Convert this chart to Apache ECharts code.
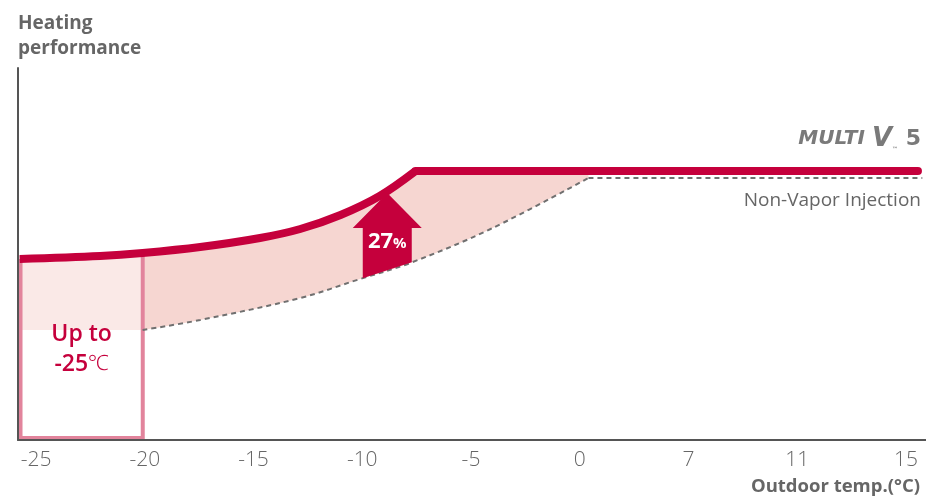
<!DOCTYPE html>
<html>
<head>
<meta charset="utf-8">
<script src="https://cdn.jsdelivr.net/npm/echarts@6/dist/echarts.min.js"></script>
<style>
  html, body { margin: 0; padding: 0; background: #fff; }
  #chart { width: 926px; height: 502px; }
</style>
</head>
<body>
<div id="chart"></div>
<script>
// Outdoor temperature tick labels, one per evenly spaced axis slot (slot 0 = -25).
const tempTicks = ['-25', '-20', '-15', '-10', '-5', '0', '7', '11', '15'];

// Heating performance curves as [axis slot, performance] pairs.
const multiV5Curve = [[-0.15, 181], [0.59, 184], [0.98, 187], [1.51, 193], [2.06, 202],
                      [2.43, 211], [2.80, 225], [3.16, 244], [3.49, 269]];
const multiV5Flat = [[3.49, 269], [8.11, 269]];
const nonVaporCurve = [[0.98, 110], [1.51, 120], [2.43, 142], [2.98, 161], [3.44, 177],
                       [4.18, 211], [5.08, 262]];
const nonVaporFlat = [[5.08, 262], [8.15, 262]];

// Gain arrow: [axis slot, from performance, to performance] and its label.
const gainArrow = [3.23, 168, 247];
const gainLabel = ['27', '%'];

// Low temperature operating zone: [from slot, to slot].
const lowTempZone = [-0.17, 1.0];
const lowTempText = ['Up to', '-25', '℃'];

// Series names drawn beside the lines.
const seriesNames = ['MULTI V. 5', 'Non-Vapor Injection'];
const axisTitles = ['Heating\nperformance', 'Outdoor temp.(°C)'];

const RED = '#c5003c';
const BAND = '#f6d6d1';
const ZONE_FILL = '#fae9e7';
const ZONE_LINE = '#e2849c';
const GREY_TEXT = '#666666';
const FONT = '"Open Sans", "Noto Sans", sans-serif';

function interp(points, x) {
  for (let i = 0; i < points.length - 1; i++) {
    const a = points[i], b = points[i + 1];
    if (x >= a[0] && x <= b[0]) {
      return a[1] + (b[1] - a[1]) * (x - a[0]) / (b[0] - a[0]);
    }
  }
  return x < points[0][0] ? points[0][1] : points[points.length - 1][1];
}

function lineSeries(data, opts) {
  return Object.assign({
    type: 'line',
    data: data,
    symbol: 'none',
    silent: true,
    animation: false
  }, opts);
}

const bandStart = nonVaporCurve[0][0];
const topLevel = multiV5Flat[0][1];

const chart = echarts.init(document.getElementById('chart'), null, { renderer: 'canvas' });

chart.setOption({
  backgroundColor: '#ffffff',
  animation: false,
  grid: { left: 18, right: 0, top: 68, bottom: 62, containLabel: false },
  xAxis: {
    type: 'value',
    min: -0.1655,
    max: 8.184,
    z: 10,
    axisLine: { show: true, onZero: false, lineStyle: { color: '#555', width: 2 } },
    axisTick: { show: false },
    splitLine: { show: false },
    axisLabel: {
      customValues: tempTicks.map((_, i) => i),
      formatter: v => tempTicks[Math.round(v)],
      color: GREY_TEXT,
      fontFamily: FONT,
      fontWeight: 300,
      fontSize: 21,
      margin: 10,
      showMinLabel: true,
      showMaxLabel: true
    }
  },
  yAxis: {
    type: 'value',
    min: 0,
    max: 372,
    z: 10,
    axisLine: { show: true, onZero: false, lineStyle: { color: '#555', width: 2 } },
    axisTick: { show: false },
    axisLabel: { show: false },
    splitLine: { show: false }
  },
  graphic: [
    {
      type: 'text', left: 18, top: 11, z: 20,
      style: { text: axisTitles[0], fill: GREY_TEXT, font: 'bold 19px ' + FONT, lineHeight: 25 }
    },
    {
      type: 'text', right: 6, top: 477, z: 20,
      style: { text: axisTitles[1], fill: GREY_TEXT, font: 'bold 18.5px ' + FONT }
    },
    {
      type: 'text', right: 5, top: 126, z: 20,
      style: {
        text: '{m|MULTI }{v|V}{t|™}{f| 5}',
        fill: '#7a7a7a',
        rich: {
          m: { font: 'italic 900 20px "DejaVu Sans", sans-serif', fill: '#7a7a7a' },
          v: { font: 'italic 900 26px "DejaVu Sans", sans-serif', fill: '#7a7a7a' },
          t: { font: 'bold 6px "DejaVu Sans", sans-serif', fill: '#7a7a7a', verticalAlign: 'bottom' },
          f: { font: 'bold 22px "DejaVu Sans", sans-serif', fill: '#7a7a7a' }
        }
      }
    },
    {
      type: 'text', right: 5, top: 191, z: 20,
      style: { text: seriesNames[1], fill: GREY_TEXT, font: '19px ' + FONT }
    }
  ],
  series: [
    // pink band: fill above the non-vapor curve ...
    lineSeries(nonVaporCurve, {
      smooth: 0.35, z: 1, lineStyle: { width: 0 },
      areaStyle: { color: BAND, opacity: 1, origin: 'end' }
    }),
    // ... then cleared above the MULTI V 5 line
    lineSeries(multiV5Curve, {
      smooth: 0.35, z: 2, lineStyle: { width: 0 },
      areaStyle: { color: '#ffffff', opacity: 1, origin: 'end' }
    }),
    lineSeries([[bandStart, topLevel], multiV5Flat[1]], {
      z: 2, lineStyle: { width: 0 },
      areaStyle: { color: '#ffffff', opacity: 1, origin: 'end' }
    }),
    // low temperature zone box and its caption
    {
      type: 'custom',
      z: 3,
      silent: true,
      animation: false,
      data: [[lowTempZone[0], lowTempZone[1], multiV5Curve[0][1], nonVaporCurve[0][1],
              interp(multiV5Curve, lowTempZone[1])]],
      encode: { x: [0, 1], y: [2, 3] },
      renderItem: function (params, api) {
        const tl = api.coord([api.value(0), api.value(2)]);
        const br = api.coord([api.value(1), 0]);
        const fb = api.coord([api.value(1), api.value(3)]);
        const tr = api.coord([api.value(1), api.value(4)]);
        const x0 = tl[0] + 3, x1 = br[0] - 2;
        const yTop = tl[1], yBot = br[1] - 2;
        return {
          type: 'group',
          children: [
            {
              type: 'rect',
              shape: { x: tl[0], y: yTop - 3, width: br[0] - tl[0], height: fb[1] - yTop + 3 },
              style: { fill: ZONE_FILL }
            },
            {
              type: 'polyline',
              shape: { points: [[x0, yTop], [x0, yBot], [x1, yBot], [x1, tr[1]]] },
              style: { stroke: ZONE_LINE, lineWidth: 4, fill: null }
            },
            {
              type: 'text',
              x: (x0 + x1) / 2,
              y: (yTop + yBot) / 2 + 1,
              style: {
                text: '{b|' + lowTempText[0] + '}\n{b|' + lowTempText[1] + '}{c|' + lowTempText[2] + '}',
                align: 'center',
                verticalAlign: 'middle',
                fill: RED,
                rich: {
                  b: { font: '600 23px ' + FONT, fill: RED, lineHeight: 30 },
                  c: { font: '300 21px ' + FONT, fill: RED, lineHeight: 30 }
                }
              }
            }
          ]
        };
      }
    },
    // Non-vapor injection reference (dashed)
    lineSeries(nonVaporCurve, {
      smooth: 0.35, z: 4, lineStyle: { color: '#707070', width: 2, type: [5, 4] }
    }),
    lineSeries(nonVaporFlat, {
      z: 4, lineStyle: { color: '#707070', width: 2, type: [5, 4] }
    }),
    // MULTI V 5 performance
    lineSeries(multiV5Curve, {
      smooth: 0.35, z: 5, lineStyle: { color: RED, width: 8, cap: 'butt' }
    }),
    lineSeries(multiV5Flat, {
      z: 5, lineStyle: { color: RED, width: 8, cap: 'round' }
    }),
    // gain arrow
    {
      type: 'custom',
      z: 6,
      silent: true,
      animation: false,
      data: [gainArrow],
      encode: { x: 0, y: [1, 2] },
      renderItem: function (params, api) {
        const x = api.value(0);
        const tip = api.coord([x, api.value(2)]);
        const unit = api.size([1, 0])[0];
        const shaft = 24.5, head = 34.5, headH = 35;
        const bl = api.coord([x - shaft / unit, interp(nonVaporCurve, x - shaft / unit)]);
        const brp = api.coord([x + shaft / unit, interp(nonVaporCurve, x + shaft / unit)]);
        const cx = tip[0], baseY = tip[1] + headH;
        return {
          type: 'group',
          children: [
            {
              type: 'polygon',
              shape: {
                points: [
                  [cx, tip[1]], [cx + head, baseY], [cx + shaft, baseY], [brp[0], brp[1]],
                  [bl[0], bl[1]], [cx - shaft, baseY], [cx - head, baseY]
                ]
              },
              style: { fill: RED }
            },
            {
              type: 'text',
              x: cx,
              y: baseY + 14,
              style: {
                text: '{n|' + gainLabel[0] + '}{p|' + gainLabel[1] + '}',
                align: 'center',
                verticalAlign: 'middle',
                fill: '#fff',
                rich: {
                  n: { font: 'bold 22px ' + FONT, fill: '#fff' },
                  p: { font: 'bold 15px ' + FONT, fill: '#fff', padding: [4, 0, 0, 0] }
                }
              }
            }
          ]
        };
      }
    }
  ]
});
</script>
</body>
</html>
